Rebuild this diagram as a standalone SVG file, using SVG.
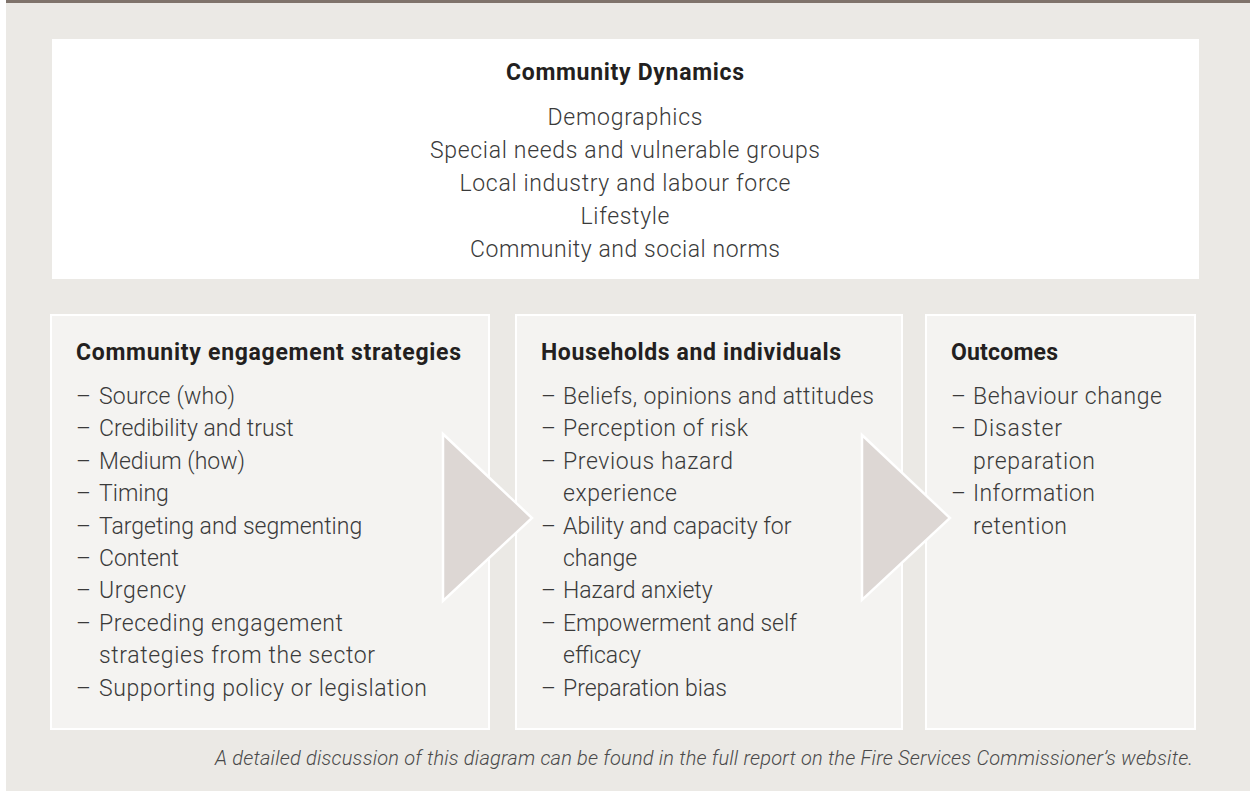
<svg xmlns="http://www.w3.org/2000/svg" width="1250" height="791" viewBox="0 0 1250 791">
<style>
.bg{fill:#ebe9e5}
.bar{fill:#7f736b}
.panel{fill:#f4f3f1;stroke:#ffffff;stroke-width:2}
.top{fill:#ffffff}
.arrow{fill:#ddd7d4;stroke:#ffffff;stroke-width:2.5;stroke-linejoin:miter}
.h{font-family:Roboto,"Liberation Sans",sans-serif;font-weight:700;font-size:23px;fill:#231f20}
.t{font-family:Roboto,"Liberation Sans",sans-serif;font-weight:300;font-size:23px;fill:#3a3a3a}
.c{text-anchor:middle}
.f{font-family:Roboto,"Liberation Sans",sans-serif;font-weight:300;font-style:italic;font-size:20px;fill:#4a4a4a}
</style>
<rect class="bg" x="6" y="0" width="1244" height="791"/>
<rect class="bar" x="6" y="0" width="1244" height="3"/>

<g id="community-dynamics">
<rect class="top" x="52" y="39" width="1147" height="240"/>
<text class="h c" x="625" y="80" textLength="238">Community Dynamics</text>
<text class="t c" x="625" y="125" textLength="155">Demographics</text>
<text class="t c" x="625" y="158" textLength="390">Special needs and vulnerable groups</text>
<text class="t c" x="625" y="191" textLength="331">Local industry and labour force</text>
<text class="t c" x="625" y="224" textLength="89">Lifestyle</text>
<text class="t c" x="625" y="257" textLength="310">Community and social norms</text>
</g>

<g id="engagement-strategies">
<rect class="panel" x="51" y="315" width="438" height="414"/>
<text class="h" x="76" y="360" textLength="385">Community engagement strategies</text>
<text class="t" x="76" y="404">–</text><text class="t" x="99" y="404" textLength="136">Source (who)</text>
<text class="t" x="76" y="436.4">–</text><text class="t" x="99" y="436.4">Credibility and trust</text>
<text class="t" x="76" y="468.8">–</text><text class="t" x="99" y="468.8">Medium (how)</text>
<text class="t" x="76" y="501.2">–</text><text class="t" x="99" y="501.2">Timing</text>
<text class="t" x="76" y="533.6">–</text><text class="t" x="99" y="533.6">Targeting and segmenting</text>
<text class="t" x="76" y="566">–</text><text class="t" x="99" y="566">Content</text>
<text class="t" x="76" y="598.4">–</text><text class="t" x="99" y="598.4" textLength="87">Urgency</text>
<text class="t" x="76" y="630.8">–</text><text class="t" x="99" y="630.8" textLength="244">Preceding engagement</text>
<text class="t" x="99" y="663.2" textLength="276">strategies from the sector</text>
<text class="t" x="76" y="695.6">–</text><text class="t" x="99" y="695.6" textLength="328">Supporting policy or legislation</text>
</g>

<g id="households-individuals">
<rect class="panel" x="516" y="315" width="386" height="414"/>
<text class="h" x="541" y="360" textLength="300">Households and individuals</text>
<text class="t" x="541" y="404">–</text><text class="t" x="563" y="404" textLength="311">Beliefs, opinions and attitudes</text>
<text class="t" x="541" y="436.4">–</text><text class="t" x="563" y="436.4" textLength="185">Perception of risk</text>
<text class="t" x="541" y="468.8">–</text><text class="t" x="563" y="468.8" textLength="170">Previous hazard</text>
<text class="t" x="563" y="501.2" textLength="114">experience</text>
<text class="t" x="541" y="533.6">–</text><text class="t" x="563" y="533.6">Ability and capacity for</text>
<text class="t" x="563" y="566">change</text>
<text class="t" x="541" y="598.4">–</text><text class="t" x="563" y="598.4">Hazard anxiety</text>
<text class="t" x="541" y="630.8">–</text><text class="t" x="563" y="630.8">Empowerment and self</text>
<text class="t" x="563" y="663.2">efficacy</text>
<text class="t" x="541" y="695.6">–</text><text class="t" x="563" y="695.6">Preparation bias</text>
</g>

<g id="outcomes">
<rect class="panel" x="926" y="315" width="269" height="414"/>
<text class="h" x="951" y="360" textLength="107">Outcomes</text>
<text class="t" x="951" y="404">–</text><text class="t" x="973" y="404" textLength="189">Behaviour change</text>
<text class="t" x="951" y="436.4">–</text><text class="t" x="973" y="436.4" textLength="89">Disaster</text>
<text class="t" x="973" y="468.8" textLength="122">preparation</text>
<text class="t" x="951" y="501.2">–</text><text class="t" x="973" y="501.2" textLength="122">Information</text>
<text class="t" x="973" y="533.6" textLength="94">retention</text>
</g>

<g id="connectors">
<polygon class="arrow" points="443,434 532,518 443,601"/>
<polygon class="arrow" points="862,435 950,518 862,600"/>
</g>

<text class="f" x="215" y="765" textLength="978">A detailed discussion of this diagram can be found in the full report on the Fire Services Commissioner’s website.</text>
</svg>
